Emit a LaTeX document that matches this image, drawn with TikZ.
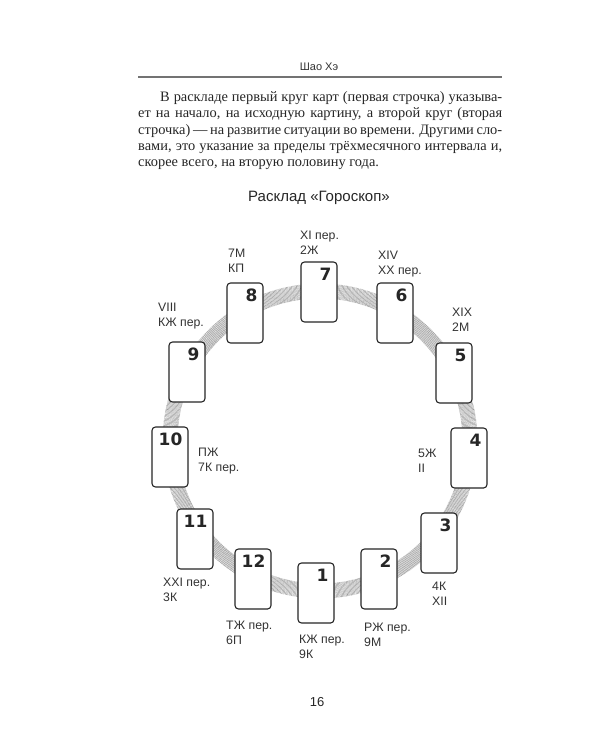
\documentclass[tikz,border=0pt]{standalone}
\usepackage{fontspec}
\setmainfont{Liberation Serif}
\newfontfamily\lsans{Liberation Sans}
\newfontfamily\numfont{DejaVu Sans Bold}
\newcommand\jline[1]{\hbox to 364pt{#1}}
\begin{document}
\begin{tikzpicture}[x=1pt,y=-1pt,
  card/.style={draw=black!85, line width=1.1pt, rounded corners=3.5pt, fill=white,
    minimum width=36pt, minimum height=60pt, inner sep=0pt},
  num/.style={font=\numfont\fontsize{17}{17}\selectfont, anchor=north east, inner sep=0pt, text=black!85},
  lab/.style={font=\lsans\fontsize{12.3}{14.5}\selectfont, align=left, anchor=north west, inner sep=0pt, text=black!80},
  band/.style={black!38, line width=15pt, dash pattern=on 0.5pt off 0.7pt}]
\useasboundingbox (0,0) rectangle (600,750);
\fill[white] (0,0) rectangle (600,750);

% header
\node[font=\lsans\fontsize{11}{13}\selectfont, text=black!80] (hdr) at (319,67) {Шао Хэ};
\coordinate (rl) at (138,77);
\coordinate (rr) at (502,77);
\draw[black!55, line width=1.2pt] (rl) -- (rr);

% paragraph
\node[anchor=north west, inner sep=0pt, text=black!85,
  font=\fontsize{14.4}{16.3}\selectfont] (para) at (138,91.5)
  {\vbox{\baselineskip=16.3pt
  \jline{\hspace*{22pt}В раскладе первый круг карт (первая строчка) указыва-}
  \jline{ет на начало, на исходную картину, а второй круг (вторая}
  \jline{строчка) — на развитие ситуации во времени. Другими сло-}
  \jline{вами, это указание за пределы трёхмесячного интервала и,}
  \hbox{скорее всего, на вторую половину года.}}};

% title
\node[font=\lsans\fontsize{15}{18}\selectfont, text=black!85] (title) at (319,198) {Расклад «Гороскоп»};

% ring
\coordinate (ctr) at (320,441);
\draw[band] (ctr) circle (150);

% cards
\foreach \n/\x/\y in {7/319/292, 6/395/313, 8/245/313, 5/454/373, 9/187/372,
  4/469/458, 10/170/457, 3/439/543, 11/195/539, 2/379/579, 12/253/579, 1/316/593}{
  \node[card] (c\n) at (\x,\y) {};
  \node[num] (n\n) at ([xshift=-6pt,yshift=-6pt]c\n.north east) {\n};
}

% labels
\node[lab] (l7) at (300,231) {XI пер.\\2Ж};
\node[lab] (l8) at (228,249) {7М\\КП};
\node[lab] (l6) at (378,251) {XIV\\XX пер.};
\node[lab] (l9) at (158,303) {VIII\\КЖ пер.};
\node[lab] (l5) at (452,308) {XIX\\2М};
\node[lab] (l10) at (198,448) {ПЖ\\7К пер.};
\node[lab] (l4) at (418,449) {5Ж\\II};
\node[lab] (l11) at (163,578) {XXI пер.\\3К};
\node[lab] (l12) at (226,621) {ТЖ пер.\\6П};
\node[lab] (l1) at (299,635) {КЖ пер.\\9К};
\node[lab] (l2) at (364,623) {РЖ пер.\\9М};
\node[lab] (l3) at (432,582) {4К\\XII};

% page number
\node[font=\lsans\fontsize{13}{15}\selectfont, text=black!85] (page) at (317,702) {16};
\end{tikzpicture}
\end{document}
